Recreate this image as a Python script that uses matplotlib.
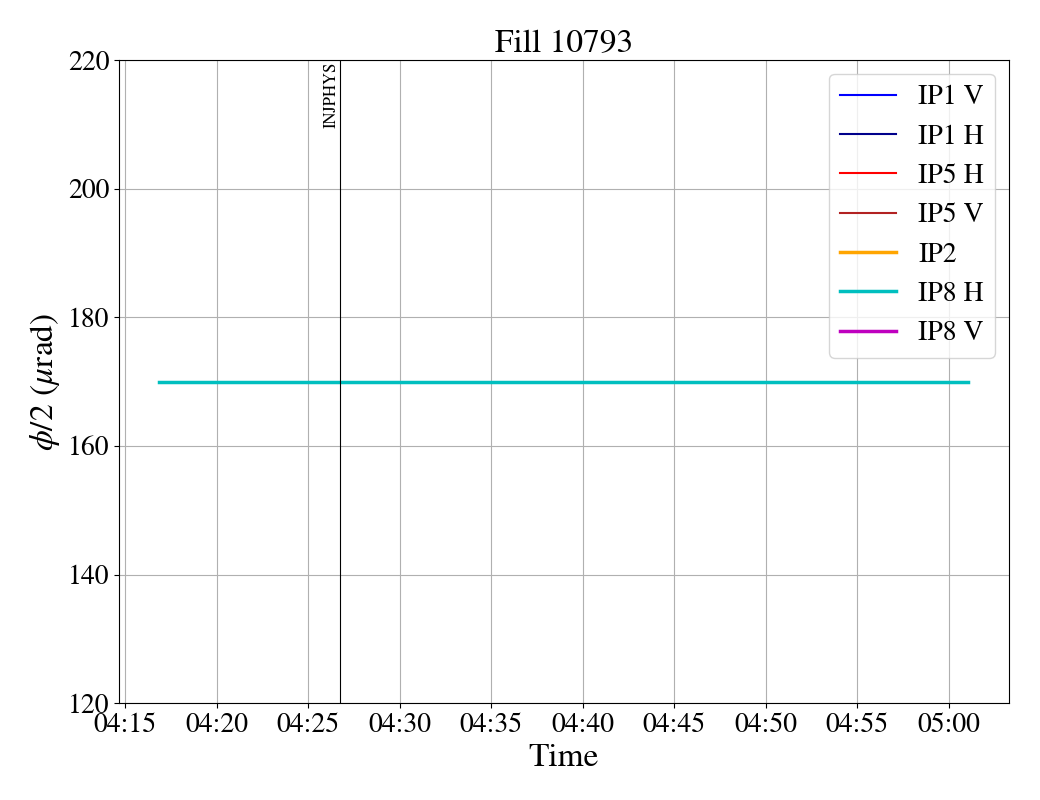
import matplotlib
matplotlib.use("Agg")
import matplotlib.pyplot as plt
import matplotlib.dates as mdates
import numpy as np
import pandas as pd

plt.rcParams['font.family'] = ['STIXGeneral', 'Liberation Serif', 'DejaVu Serif']
plt.rcParams['mathtext.fontset'] = 'stix'

# data
fill = 10793
ip8h_time = pd.to_datetime(["2024-06-01 04:16:52", "2024-06-01 05:01:05"])
ip8h_val = [170, 170]
mode_time = pd.to_datetime("2024-06-01 04:26:44")
mode_label = "INJPHYS"

series = [
    ("IP1 V", "blue", 1.5),
    ("IP1 H", "darkblue", 1.5),
    ("IP5 H", "red", 1.5),
    ("IP5 V", "firebrick", 1.5),
    ("IP2", "orange", 2.5),
    ("IP8 H", "c", 2.5),
    ("IP8 V", "m", 2.5),
]


def main():
    fig, ax = plt.subplots(figsize=(10.4, 8), dpi=100)
    fig.subplots_adjust(left=0.1144, right=0.970, top=0.925, bottom=0.121)

    for name, color, lw in series:
        if name == "IP8 H":
            ax.plot(ip8h_time, ip8h_val, color=color, lw=lw, label=name)
        else:
            ax.plot([], [], color=color, lw=lw, label=name)

    ax.axvline(mode_time, color='k', lw=0.8)
    ax.set_ylim(120, 220)
    ax.text(mode_time, 219.7, mode_label, rotation=90, ha='right', va='top', fontsize=12)

    ax.xaxis.set_major_locator(mdates.MinuteLocator(byminute=range(0, 60, 5)))
    ax.xaxis.set_major_formatter(mdates.DateFormatter('%H:%M'))
    ax.grid(True)
    ax.tick_params(labelsize=20)
    ax.set_xlabel('Time', fontsize=24)
    ax.set_ylabel(r'$\phi/2$ ($\mu$rad)', fontsize=24)
    ax.set_title(f'Fill {fill}', fontsize=24)
    ax.legend(loc='upper right', fontsize=20)

    plt.savefig('out.png', dpi=100)


if __name__ == "__main__":
    main()
